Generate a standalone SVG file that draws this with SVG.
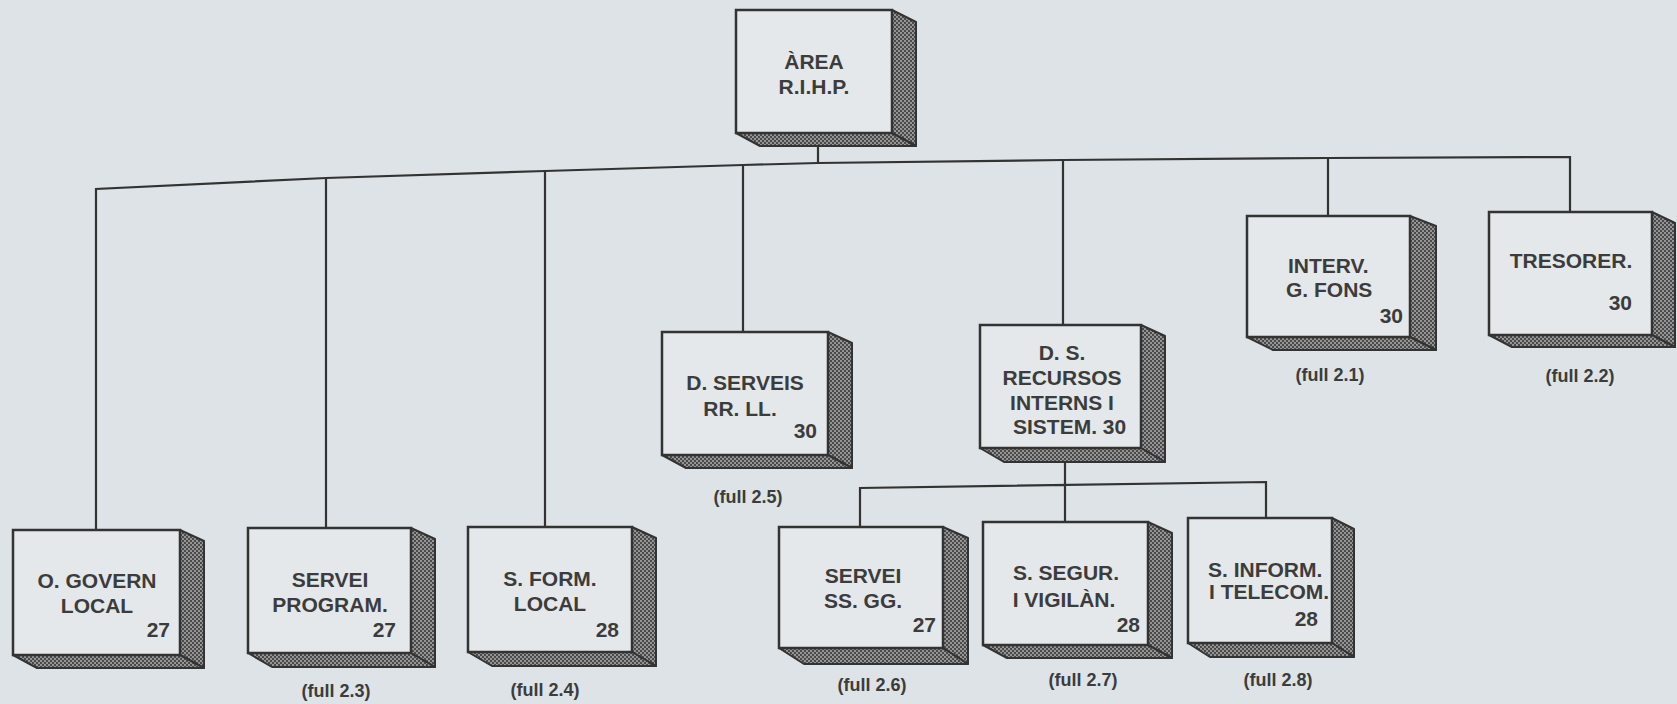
<svg xmlns="http://www.w3.org/2000/svg" width="1677" height="704" viewBox="0 0 1677 704">
<defs>
<pattern id="hatch" width="4" height="4" patternUnits="userSpaceOnUse">
<rect width="4" height="4" fill="#4a4a4a"/>
<circle cx="1" cy="1" r="0.9" fill="#b8b8b8"/>
<circle cx="3" cy="3" r="0.9" fill="#b8b8b8"/>
</pattern>
</defs>
<style>
.bg{fill:#dde3e6}
.front{fill:#e4e8ea;stroke:#333;stroke-width:2.5}
.shade{fill:url(#hatch);stroke:#333;stroke-width:2;stroke-linejoin:round}
.conn{fill:none;stroke:#333;stroke-width:2.2}
.t{font-family:"Liberation Sans",Arial,sans-serif;font-weight:bold;fill:#3c3c3c;font-size:21px;text-anchor:middle}
.s{font-family:"Liberation Sans",Arial,sans-serif;font-weight:bold;fill:#3c3c3c;font-size:21px;text-anchor:start}
.n{font-family:"Liberation Sans",Arial,sans-serif;font-weight:bold;fill:#3c3c3c;font-size:21px;text-anchor:end}
.f{font-family:"Liberation Sans",Arial,sans-serif;font-weight:bold;fill:#3c3c3c;font-size:18px;text-anchor:middle}
</style>
<rect class="bg" width="1677" height="704"/>
<g id="connectors">
<path class="conn" d="M96,530 V189 L326,178 L545,171 L743,165 L818,163 L1063,160 L1328,158 L1570,157 V212"/>
<path class="conn" d="M818,146 V163 M326,178 V528 M545,171 V527 M743,165 V332 M1063,160 V325 M1328,158 V216"/>
<path class="conn" d="M1065,462 V486 M860,527 V488 L1266,482 V518 M1065,486 V522"/>
</g>
<g id="area">
<polygon class="shade" points="892,10 916,22 916,146 892,133"/>
<polygon class="shade" points="736,133 892,133 916,146 760,146"/>
<rect class="front" x="736" y="10" width="156" height="123"/>
<text class="t" x="814" y="69" font-size="20">ÀREA</text>
<text class="t" x="814" y="94" font-size="20">R.I.H.P.</text>
</g>
<g id="ogovern">
<polygon class="shade" points="180,530 204,541 204,668 180,655"/>
<polygon class="shade" points="13,655 180,655 204,668 37,668"/>
<rect class="front" x="13" y="530" width="167" height="125"/>
<text class="t" x="97" y="588">O. GOVERN</text>
<text class="t" x="97" y="613">LOCAL</text>
<text class="n" x="170" y="637">27</text>
</g>
<g id="serveiprogram">
<polygon class="shade" points="411,528 435,539 435,667 411,653"/>
<polygon class="shade" points="248,653 411,653 435,667 272,667"/>
<rect class="front" x="248" y="528" width="163" height="125"/>
<text class="t" x="330" y="587">SERVEI</text>
<text class="t" x="330" y="612">PROGRAM.</text>
<text class="n" x="396" y="637">27</text>
<text class="f" x="336" y="697">(full 2.3)</text>
</g>
<g id="sformlocal">
<polygon class="shade" points="632,527 656,538 656,666 632,652"/>
<polygon class="shade" points="468,652 632,652 656,666 492,666"/>
<rect class="front" x="468" y="527" width="164" height="125"/>
<text class="t" x="550" y="586">S. FORM.</text>
<text class="t" x="550" y="611">LOCAL</text>
<text class="n" x="619" y="637">28</text>
<text class="f" x="545" y="696">(full 2.4)</text>
</g>
<g id="dserveis">
<polygon class="shade" points="828,332 852,343 852,468 828,455"/>
<polygon class="shade" points="662,455 828,455 852,468 686,468"/>
<rect class="front" x="662" y="332" width="166" height="123"/>
<text class="t" x="745" y="390">D. SERVEIS</text>
<text class="t" x="740" y="416">RR. LL.</text>
<text class="n" x="817" y="438">30</text>
<text class="f" x="748" y="503">(full 2.5)</text>
</g>
<g id="dsrecursos">
<polygon class="shade" points="1141,325 1165,336 1165,462 1141,448"/>
<polygon class="shade" points="980,448 1141,448 1165,462 1004,462"/>
<rect class="front" x="980" y="325" width="161" height="123"/>
<text class="t" x="1062" y="360">D. S.</text>
<text class="t" x="1062" y="385">RECURSOS</text>
<text class="t" x="1062" y="410">INTERNS I</text>
<text class="s" x="1013" y="434">SISTEM. 30</text>
</g>
<g id="interv">
<polygon class="shade" points="1410,216 1436,226 1436,350 1410,337"/>
<polygon class="shade" points="1247,337 1410,337 1436,350 1273,350"/>
<rect class="front" x="1247" y="216" width="163" height="121"/>
<text class="s" x="1288" y="273">INTERV.</text>
<text class="s" x="1286" y="297">G. FONS</text>
<text class="n" x="1403" y="323">30</text>
<text class="f" x="1330" y="381">(full 2.1)</text>
</g>
<g id="tresorer">
<polygon class="shade" points="1652,212 1675,223 1675,347 1652,335"/>
<polygon class="shade" points="1489,335 1652,335 1675,347 1512,347"/>
<rect class="front" x="1489" y="212" width="163" height="123"/>
<text class="t" x="1571" y="268" font-size="20">TRESORER.</text>
<text class="n" x="1632" y="310">30</text>
<text class="f" x="1580" y="382">(full 2.2)</text>
</g>
<g id="serveissgg">
<polygon class="shade" points="943,527 968,538 968,664 943,648"/>
<polygon class="shade" points="779,648 943,648 968,664 804,664"/>
<rect class="front" x="779" y="527" width="164" height="121"/>
<text class="t" x="863" y="583">SERVEI</text>
<text class="t" x="863" y="608">SS. GG.</text>
<text class="n" x="936" y="632">27</text>
<text class="f" x="872" y="691">(full 2.6)</text>
</g>
<g id="ssegur">
<polygon class="shade" points="1148,522 1172,533 1172,658 1148,645"/>
<polygon class="shade" points="983,645 1148,645 1172,658 1007,658"/>
<rect class="front" x="983" y="522" width="165" height="123"/>
<text class="t" x="1066" y="580">S. SEGUR.</text>
<text class="t" x="1064" y="607">I VIGILÀN.</text>
<text class="n" x="1140" y="632">28</text>
<text class="f" x="1083" y="686">(full 2.7)</text>
</g>
<g id="sinform">
<polygon class="shade" points="1332,518 1354,529 1354,657 1332,643"/>
<polygon class="shade" points="1188,643 1332,643 1354,657 1210,657"/>
<rect class="front" x="1188" y="518" width="144" height="125"/>
<text class="s" x="1208" y="577" font-size="19">S. INFORM.</text>
<text class="s" x="1209" y="599" font-size="19">I TELECOM.</text>
<text class="n" x="1318" y="626">28</text>
<text class="f" x="1278" y="686">(full 2.8)</text>
</g>
</svg>
